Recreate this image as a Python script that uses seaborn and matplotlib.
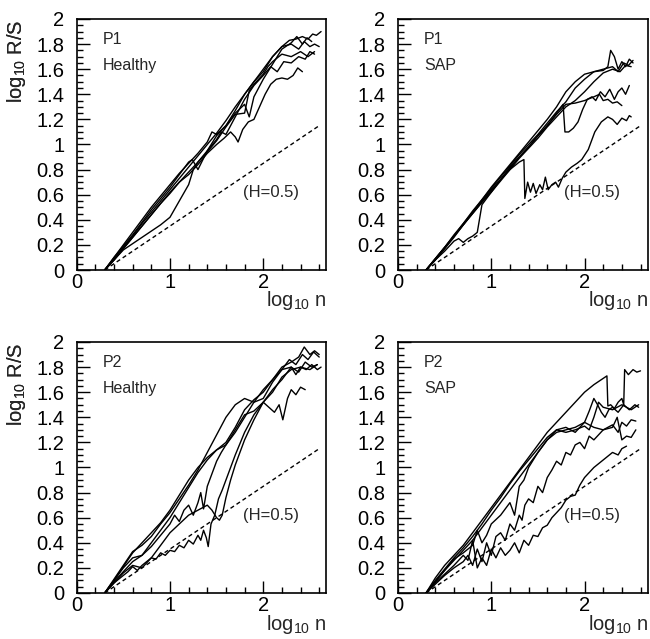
import numpy as np
import pandas as pd
import matplotlib
matplotlib.use("Agg")
import matplotlib.pyplot as plt
from matplotlib.ticker import MultipleLocator, FuncFormatter
import seaborn as sns

# ---------------- data ----------------
panel_tags = ["P1", "P1", "P2", "P2"]
panel_groups = ["Healthy", "SAP", "Healthy", "SAP"]
ref_label = "(H=0.5)"
ref_x = [0.30, 2.60]
ref_y = [0.00, 1.15]

# P1 Healthy
tl1_x = [0.30,0.40,0.50,0.60,0.70,0.80,0.90,1.00,1.10,1.20,1.30,1.40,1.50,1.60,1.70,1.80,1.90,2.00,2.10,2.20,2.28,2.35,2.42,2.48,2.53,2.57,2.62]
tl1_y = [0.00,0.09,0.18,0.27,0.37,0.46,0.55,0.64,0.73,0.82,0.91,1.00,1.09,1.19,1.30,1.40,1.50,1.60,1.70,1.78,1.83,1.84,1.86,1.84,1.88,1.87,1.90]
tl2_x = [0.30,0.40,0.50,0.60,0.70,0.80,0.90,1.00,1.10,1.20,1.24,1.30,1.40,1.50,1.60,1.70,1.80,1.90,2.00,2.10,2.20,2.30,2.38,2.44,2.50,2.55,2.60]
tl2_y = [0.00,0.10,0.19,0.28,0.38,0.48,0.57,0.66,0.76,0.86,0.88,0.80,0.95,1.07,1.15,1.27,1.40,1.50,1.58,1.70,1.78,1.80,1.76,1.82,1.78,1.80,1.78]
tl3_x = [0.30,0.40,0.50,0.60,0.70,0.80,0.90,1.00,1.10,1.20,1.30,1.40,1.50,1.55,1.60,1.70,1.80,1.90,2.00,2.08,2.15,2.22,2.30,2.38,2.45,2.50,2.55]
tl3_y = [0.00,0.08,0.17,0.26,0.35,0.44,0.53,0.62,0.70,0.78,0.86,0.95,1.04,1.10,1.08,1.22,1.36,1.47,1.55,1.62,1.58,1.66,1.65,1.70,1.68,1.74,1.72]
tl4_x = [0.30,0.40,0.50,0.60,0.70,0.80,0.90,1.00,1.10,1.20,1.30,1.40,1.50,1.58,1.65,1.70,1.73,1.78,1.84,1.90,1.96,2.02,2.08,2.14,2.20,2.26,2.32,2.37,2.42]
tl4_y = [0.00,0.08,0.17,0.26,0.35,0.44,0.53,0.61,0.70,0.76,0.84,0.93,1.00,1.05,1.10,1.06,1.02,1.12,1.18,1.20,1.30,1.40,1.48,1.52,1.53,1.52,1.55,1.61,1.58]
tl5_x = [0.30,0.40,0.50,0.60,0.70,0.80,0.90,1.00,1.10,1.20,1.25,1.30,1.40,1.50,1.60,1.70,1.80,1.85,1.90,2.00,2.05,2.10,2.20,2.30,2.40,2.48,2.55]
tl5_y = [0.00,0.08,0.16,0.21,0.26,0.31,0.36,0.42,0.55,0.68,0.80,0.86,0.94,1.03,1.14,1.24,1.25,1.43,1.48,1.56,1.62,1.66,1.72,1.70,1.74,1.70,1.74]
tl6_x = [0.30,0.40,0.50,0.60,0.70,0.80,0.90,1.00,1.10,1.20,1.30,1.40,1.45,1.50,1.60,1.70,1.80,1.85,1.90,2.00,2.10,2.20,2.30,2.36,2.42,2.47,2.52]
tl6_y = [0.00,0.10,0.20,0.30,0.40,0.50,0.59,0.68,0.77,0.85,0.93,1.02,1.10,1.08,1.15,1.25,1.32,1.22,1.38,1.52,1.64,1.76,1.81,1.86,1.80,1.85,1.82]

# P1 SAP
tr1_x = [0.30,0.40,0.50,0.60,0.70,0.80,0.90,1.00,1.10,1.20,1.30,1.40,1.50,1.60,1.70,1.80,1.90,2.00,2.10,2.20,2.25,2.28,2.32,2.36,2.40,2.44,2.48,2.52]
tr1_y = [0.00,0.08,0.17,0.27,0.37,0.46,0.56,0.66,0.75,0.84,0.93,1.02,1.11,1.20,1.30,1.42,1.50,1.56,1.58,1.59,1.62,1.75,1.70,1.60,1.66,1.62,1.68,1.65]
tr2_x = [0.30,0.40,0.50,0.60,0.70,0.80,0.90,1.00,1.10,1.20,1.30,1.40,1.50,1.60,1.70,1.80,1.90,2.00,2.10,2.20,2.30,2.36,2.42,2.47,2.52]
tr2_y = [0.00,0.09,0.18,0.28,0.37,0.47,0.56,0.65,0.74,0.83,0.92,1.00,1.08,1.17,1.26,1.34,1.45,1.52,1.58,1.60,1.62,1.58,1.65,1.63,1.67]
tr3_x = [0.30,0.40,0.50,0.60,0.70,0.80,0.90,1.00,1.10,1.20,1.30,1.40,1.50,1.60,1.70,1.77,1.79,1.83,1.88,1.93,1.98,2.03,2.08,2.12,2.17,2.22,2.27,2.32,2.36,2.40,2.44,2.48]
tr3_y = [0.00,0.09,0.18,0.27,0.36,0.45,0.54,0.63,0.72,0.81,0.90,0.98,1.07,1.15,1.25,1.32,1.10,1.10,1.13,1.18,1.28,1.36,1.38,1.35,1.42,1.38,1.44,1.36,1.42,1.45,1.40,1.47]
tr4_x = [0.30,0.40,0.50,0.60,0.65,0.70,0.75,0.80,0.85,0.90,1.00,1.10,1.20,1.30,1.40,1.50,1.60,1.70,1.80,1.90,2.00,2.10,2.16,2.20,2.25,2.30,2.35,2.40]
tr4_y = [0.00,0.08,0.15,0.23,0.25,0.22,0.25,0.27,0.30,0.52,0.62,0.72,0.82,0.90,0.98,1.07,1.15,1.24,1.32,1.33,1.35,1.38,1.40,1.35,1.36,1.33,1.34,1.31]
tr5_x = [0.30,0.40,0.50,0.60,0.70,0.80,0.90,1.00,1.10,1.20,1.30,1.35,1.36,1.39,1.42,1.45,1.48,1.52,1.55,1.58,1.61,1.65,1.69,1.72,1.76,1.80,1.86,1.92,1.97,2.04,2.11,2.18,2.25,2.30,2.35,2.40,2.45,2.48,2.50]
tr5_y = [0.00,0.09,0.18,0.27,0.36,0.46,0.55,0.64,0.72,0.80,0.86,0.88,0.57,0.70,0.62,0.69,0.61,0.68,0.64,0.74,0.64,0.68,0.70,0.66,0.73,0.78,0.82,0.85,0.88,0.96,1.10,1.18,1.22,1.20,1.16,1.21,1.19,1.23,1.22]
tr6_x = [0.30,0.40,0.50,0.60,0.70,0.80,0.90,1.00,1.10,1.20,1.30,1.40,1.50,1.60,1.70,1.80,1.90,2.00,2.10,2.20,2.30,2.38,2.44,2.50]
tr6_y = [0.00,0.08,0.17,0.26,0.36,0.45,0.54,0.62,0.71,0.80,0.89,0.97,1.05,1.14,1.22,1.30,1.35,1.42,1.50,1.57,1.60,1.58,1.63,1.62]

# P2 Healthy
bl1_x = [0.30,0.40,0.50,0.60,0.70,0.80,0.90,1.00,1.10,1.20,1.30,1.40,1.50,1.60,1.70,1.80,1.90,2.00,2.10,2.20,2.30,2.38,2.44,2.50,2.55,2.60]
bl1_y = [0.00,0.10,0.21,0.32,0.40,0.48,0.56,0.66,0.78,0.90,1.00,1.08,1.14,1.20,1.32,1.46,1.54,1.60,1.70,1.80,1.84,1.88,1.96,1.90,1.93,1.90]
bl2_x = [0.30,0.40,0.50,0.60,0.70,0.80,0.90,1.00,1.10,1.20,1.30,1.40,1.50,1.60,1.70,1.80,1.90,2.00,2.10,2.20,2.28,2.35,2.42,2.48,2.54,2.60]
bl2_y = [0.00,0.11,0.22,0.33,0.38,0.45,0.55,0.64,0.75,0.86,0.98,1.12,1.26,1.40,1.50,1.55,1.52,1.55,1.68,1.78,1.86,1.82,1.90,1.86,1.92,1.88]
bl3_x = [0.30,0.40,0.50,0.60,0.70,0.80,0.90,1.00,1.10,1.20,1.30,1.40,1.50,1.60,1.70,1.80,1.90,2.00,2.10,2.20,2.30,2.35,2.40,2.46,2.52,2.58,2.62]
bl3_y = [0.00,0.10,0.20,0.28,0.30,0.40,0.50,0.60,0.72,0.84,0.96,1.06,1.14,1.18,1.28,1.40,1.52,1.62,1.70,1.78,1.80,1.74,1.80,1.78,1.82,1.78,1.80]
bl4_x = [0.30,0.40,0.50,0.60,0.70,0.80,0.90,1.00,1.05,1.10,1.15,1.20,1.25,1.30,1.33,1.36,1.40,1.45,1.50,1.55,1.60,1.70,1.80,1.90,2.00,2.06,2.12,2.17,2.21,2.26,2.30,2.35,2.40,2.45]
bl4_y = [0.00,0.09,0.17,0.25,0.30,0.37,0.46,0.55,0.62,0.57,0.66,0.70,0.62,0.72,0.80,0.67,0.85,0.95,1.05,1.12,1.18,1.30,1.42,1.45,1.52,1.48,1.44,1.50,1.38,1.55,1.62,1.58,1.64,1.62]
bl5_x = [0.30,0.40,0.50,0.55,0.60,0.65,0.70,0.75,0.80,0.85,0.90,0.95,1.00,1.05,1.10,1.15,1.20,1.25,1.30,1.33,1.36,1.39,1.41,1.44,1.48,1.52,1.56,1.60,1.65,1.70,1.80,1.90,2.00,2.10,2.20,2.30,2.40,2.50,2.58]
bl5_y = [0.00,0.08,0.14,0.17,0.21,0.18,0.22,0.25,0.28,0.27,0.32,0.30,0.34,0.33,0.38,0.36,0.42,0.39,0.46,0.42,0.50,0.44,0.37,0.55,0.62,0.75,0.82,0.90,1.00,1.10,1.28,1.42,1.52,1.60,1.72,1.78,1.80,1.78,1.82]
bl6_x = [0.30,0.40,0.50,0.60,0.70,0.80,0.90,1.00,1.10,1.20,1.30,1.40,1.45,1.50,1.53,1.56,1.60,1.65,1.70,1.80,1.90,2.00,2.10,2.20,2.30,2.38,2.45,2.52,2.58]
bl6_y = [0.00,0.08,0.16,0.22,0.20,0.28,0.38,0.48,0.55,0.62,0.66,0.70,0.66,0.60,0.58,0.62,0.76,0.90,1.02,1.22,1.38,1.52,1.62,1.70,1.80,1.76,1.84,1.80,1.82]

# P2 SAP
br1_x = [0.30,0.40,0.50,0.60,0.70,0.80,0.90,1.00,1.10,1.20,1.30,1.40,1.50,1.60,1.70,1.80,1.90,2.00,2.10,2.18,2.24,2.25,2.28,2.32,2.36,2.40,2.42,2.43,2.47,2.52,2.56,2.60]
br1_y = [0.00,0.12,0.22,0.30,0.38,0.48,0.58,0.68,0.78,0.88,0.98,1.08,1.18,1.28,1.36,1.44,1.52,1.60,1.66,1.70,1.73,1.49,1.50,1.47,1.52,1.55,1.50,1.78,1.74,1.78,1.76,1.77]
br2_x = [0.30,0.40,0.50,0.60,0.70,0.80,0.90,1.00,1.10,1.20,1.30,1.40,1.50,1.60,1.70,1.80,1.90,2.00,2.05,2.10,2.14,2.18,2.22,2.26,2.30,2.36,2.42,2.48,2.54,2.58]
br2_y = [0.00,0.09,0.18,0.26,0.34,0.42,0.52,0.62,0.72,0.82,0.92,1.02,1.12,1.22,1.28,1.30,1.32,1.36,1.45,1.55,1.50,1.44,1.40,1.46,1.48,1.44,1.50,1.46,1.50,1.48]
br3_x = [0.30,0.40,0.50,0.60,0.70,0.80,0.85,0.90,0.95,1.00,1.10,1.20,1.25,1.30,1.35,1.40,1.50,1.60,1.70,1.80,1.90,2.00,2.10,2.20,2.30,2.36,2.40,2.45,2.50,2.55]
br3_y = [0.00,0.09,0.18,0.27,0.32,0.38,0.50,0.40,0.46,0.55,0.62,0.72,0.62,0.85,0.90,1.00,1.12,1.22,1.30,1.32,1.28,1.36,1.32,1.30,1.34,1.28,1.36,1.33,1.38,1.37]
br4_x = [0.30,0.40,0.50,0.60,0.70,0.75,0.80,0.85,0.90,0.95,1.00,1.05,1.10,1.15,1.20,1.25,1.30,1.33,1.36,1.40,1.45,1.50,1.55,1.60,1.65,1.70,1.75,1.80,1.85,1.90,1.95,2.00,2.05,2.10,2.20,2.30,2.35,2.40,2.45,2.50,2.55]
br4_y = [0.00,0.07,0.14,0.20,0.25,0.30,0.22,0.35,0.25,0.40,0.30,0.45,0.48,0.42,0.55,0.50,0.62,0.58,0.70,0.75,0.72,0.85,0.80,0.92,0.98,1.05,1.02,1.12,1.10,1.18,1.20,1.15,1.25,1.22,1.30,1.32,1.40,1.22,1.25,1.24,1.30]
br5_x = [0.30,0.40,0.50,0.60,0.70,0.75,0.80,0.85,0.90,0.95,1.00,1.05,1.10,1.15,1.20,1.25,1.30,1.35,1.40,1.45,1.50,1.55,1.60,1.65,1.70,1.75,1.80,1.85,1.90,1.95,2.00,2.10,2.20,2.30,2.36,2.40,2.45]
br5_y = [0.00,0.08,0.15,0.22,0.30,0.26,0.42,0.20,0.28,0.22,0.35,0.28,0.36,0.30,0.34,0.40,0.32,0.42,0.38,0.46,0.45,0.52,0.54,0.60,0.64,0.68,0.74,0.77,0.78,0.86,0.92,1.00,1.06,1.12,1.10,1.15,1.17]
br6_x = [0.30,0.40,0.50,0.60,0.70,0.80,0.90,1.00,1.10,1.20,1.30,1.40,1.50,1.60,1.70,1.80,1.90,2.00,2.05,2.10,2.15,2.20,2.30,2.40,2.50,2.58]
br6_y = [0.00,0.10,0.19,0.28,0.36,0.45,0.55,0.66,0.76,0.87,0.97,1.06,1.15,1.24,1.30,1.28,1.30,1.33,1.30,1.40,1.52,1.48,1.46,1.50,1.46,1.50]

panels = [
    [(tl1_x, tl1_y), (tl2_x, tl2_y), (tl3_x, tl3_y), (tl4_x, tl4_y), (tl5_x, tl5_y), (tl6_x, tl6_y)],
    [(tr1_x, tr1_y), (tr2_x, tr2_y), (tr3_x, tr3_y), (tr4_x, tr4_y), (tr5_x, tr5_y), (tr6_x, tr6_y)],
    [(bl1_x, bl1_y), (bl2_x, bl2_y), (bl3_x, bl3_y), (bl4_x, bl4_y), (bl5_x, bl5_y), (bl6_x, bl6_y)],
    [(br1_x, br1_y), (br2_x, br2_y), (br3_x, br3_y), (br4_x, br4_y), (br5_x, br5_y), (br6_x, br6_y)],
]

# ---------------- style ----------------
sns.set_style("ticks")
plt.rcParams["font.family"] = ["Liberation Sans", "DejaVu Sans"]
plt.rcParams["mathtext.fontset"] = "custom"
plt.rcParams["mathtext.rm"] = "Liberation Sans"
plt.rcParams["mathtext.it"] = "Liberation Sans"

W, H = 650, 639
fig = plt.figure(figsize=(W / 100, H / 100), dpi=100)

lefts = [76.7, 398.0]
tops = [19.0, 342.0]
aw, ah = 249.5, 251.0

fmt = FuncFormatter(lambda v, p: "%g" % round(v, 2))

for i, curves in enumerate(panels):
    r, c = divmod(i, 2)
    l, t = lefts[c], tops[r]
    ax = fig.add_axes([l / W, 1 - (t + ah) / H, aw / W, ah / H])
    rows = []
    for k, (xs, ys) in enumerate(curves):
        for xv, yv in zip(xs, ys):
            rows.append((k, xv, yv))
    df = pd.DataFrame(rows, columns=["curve", "x", "y"])
    sns.lineplot(data=df, x="x", y="y", units="curve", estimator=None,
                 sort=False, color="black", lw=1.0, ax=ax, legend=False)
    sns.lineplot(x=ref_x, y=ref_y, ax=ax, color="black", lw=1.0,
                 linestyle=(0, (3.0, 2.2)), legend=False)
    ax.set_xlim(0, 2.675)
    ax.set_ylim(0, 2)
    ax.xaxis.set_major_locator(MultipleLocator(1))
    ax.xaxis.set_minor_locator(MultipleLocator(0.2))
    ax.yaxis.set_major_locator(MultipleLocator(0.2))
    ax.yaxis.set_minor_locator(MultipleLocator(0.05))
    ax.xaxis.set_major_formatter(fmt)
    ax.yaxis.set_major_formatter(fmt)
    ax.tick_params(axis="both", which="both", direction="in", width=1.0,
                   colors="black", labelsize=14.5, top=False, right=False)
    ax.tick_params(axis="y", which="major", length=9, pad=9)
    ax.tick_params(axis="y", which="minor", length=4)
    ax.tick_params(axis="x", which="major", length=9, pad=2)
    ax.tick_params(axis="x", which="minor", length=4.5)
    for s in ax.spines.values():
        s.set_linewidth(1.2)
        s.set_color("black")
    ax.set_xlabel("")
    ax.set_ylabel("")
    ax.text(0.28, 1.84, panel_tags[i], fontsize=11.5, ha="left", va="center")
    ax.text(0.28, 1.63, panel_groups[i], fontsize=11.5, ha="left", va="center")
    ax.text(1.78, 0.62, ref_label, fontsize=12, ha="left", va="center")

    # axis titles
    fig.text(17 / W, 1 - (t + 1) / H, r"log$_{10}$ R/S", rotation=90,
             ha="center", va="top", fontsize=14.5)
    fig.text((l + aw + 1) / W, 1 - (t + ah + 31) / H, r"log$_{10}$ n",
             ha="right", va="center", fontsize=14.5)

fig.savefig("out.png", dpi=100)
